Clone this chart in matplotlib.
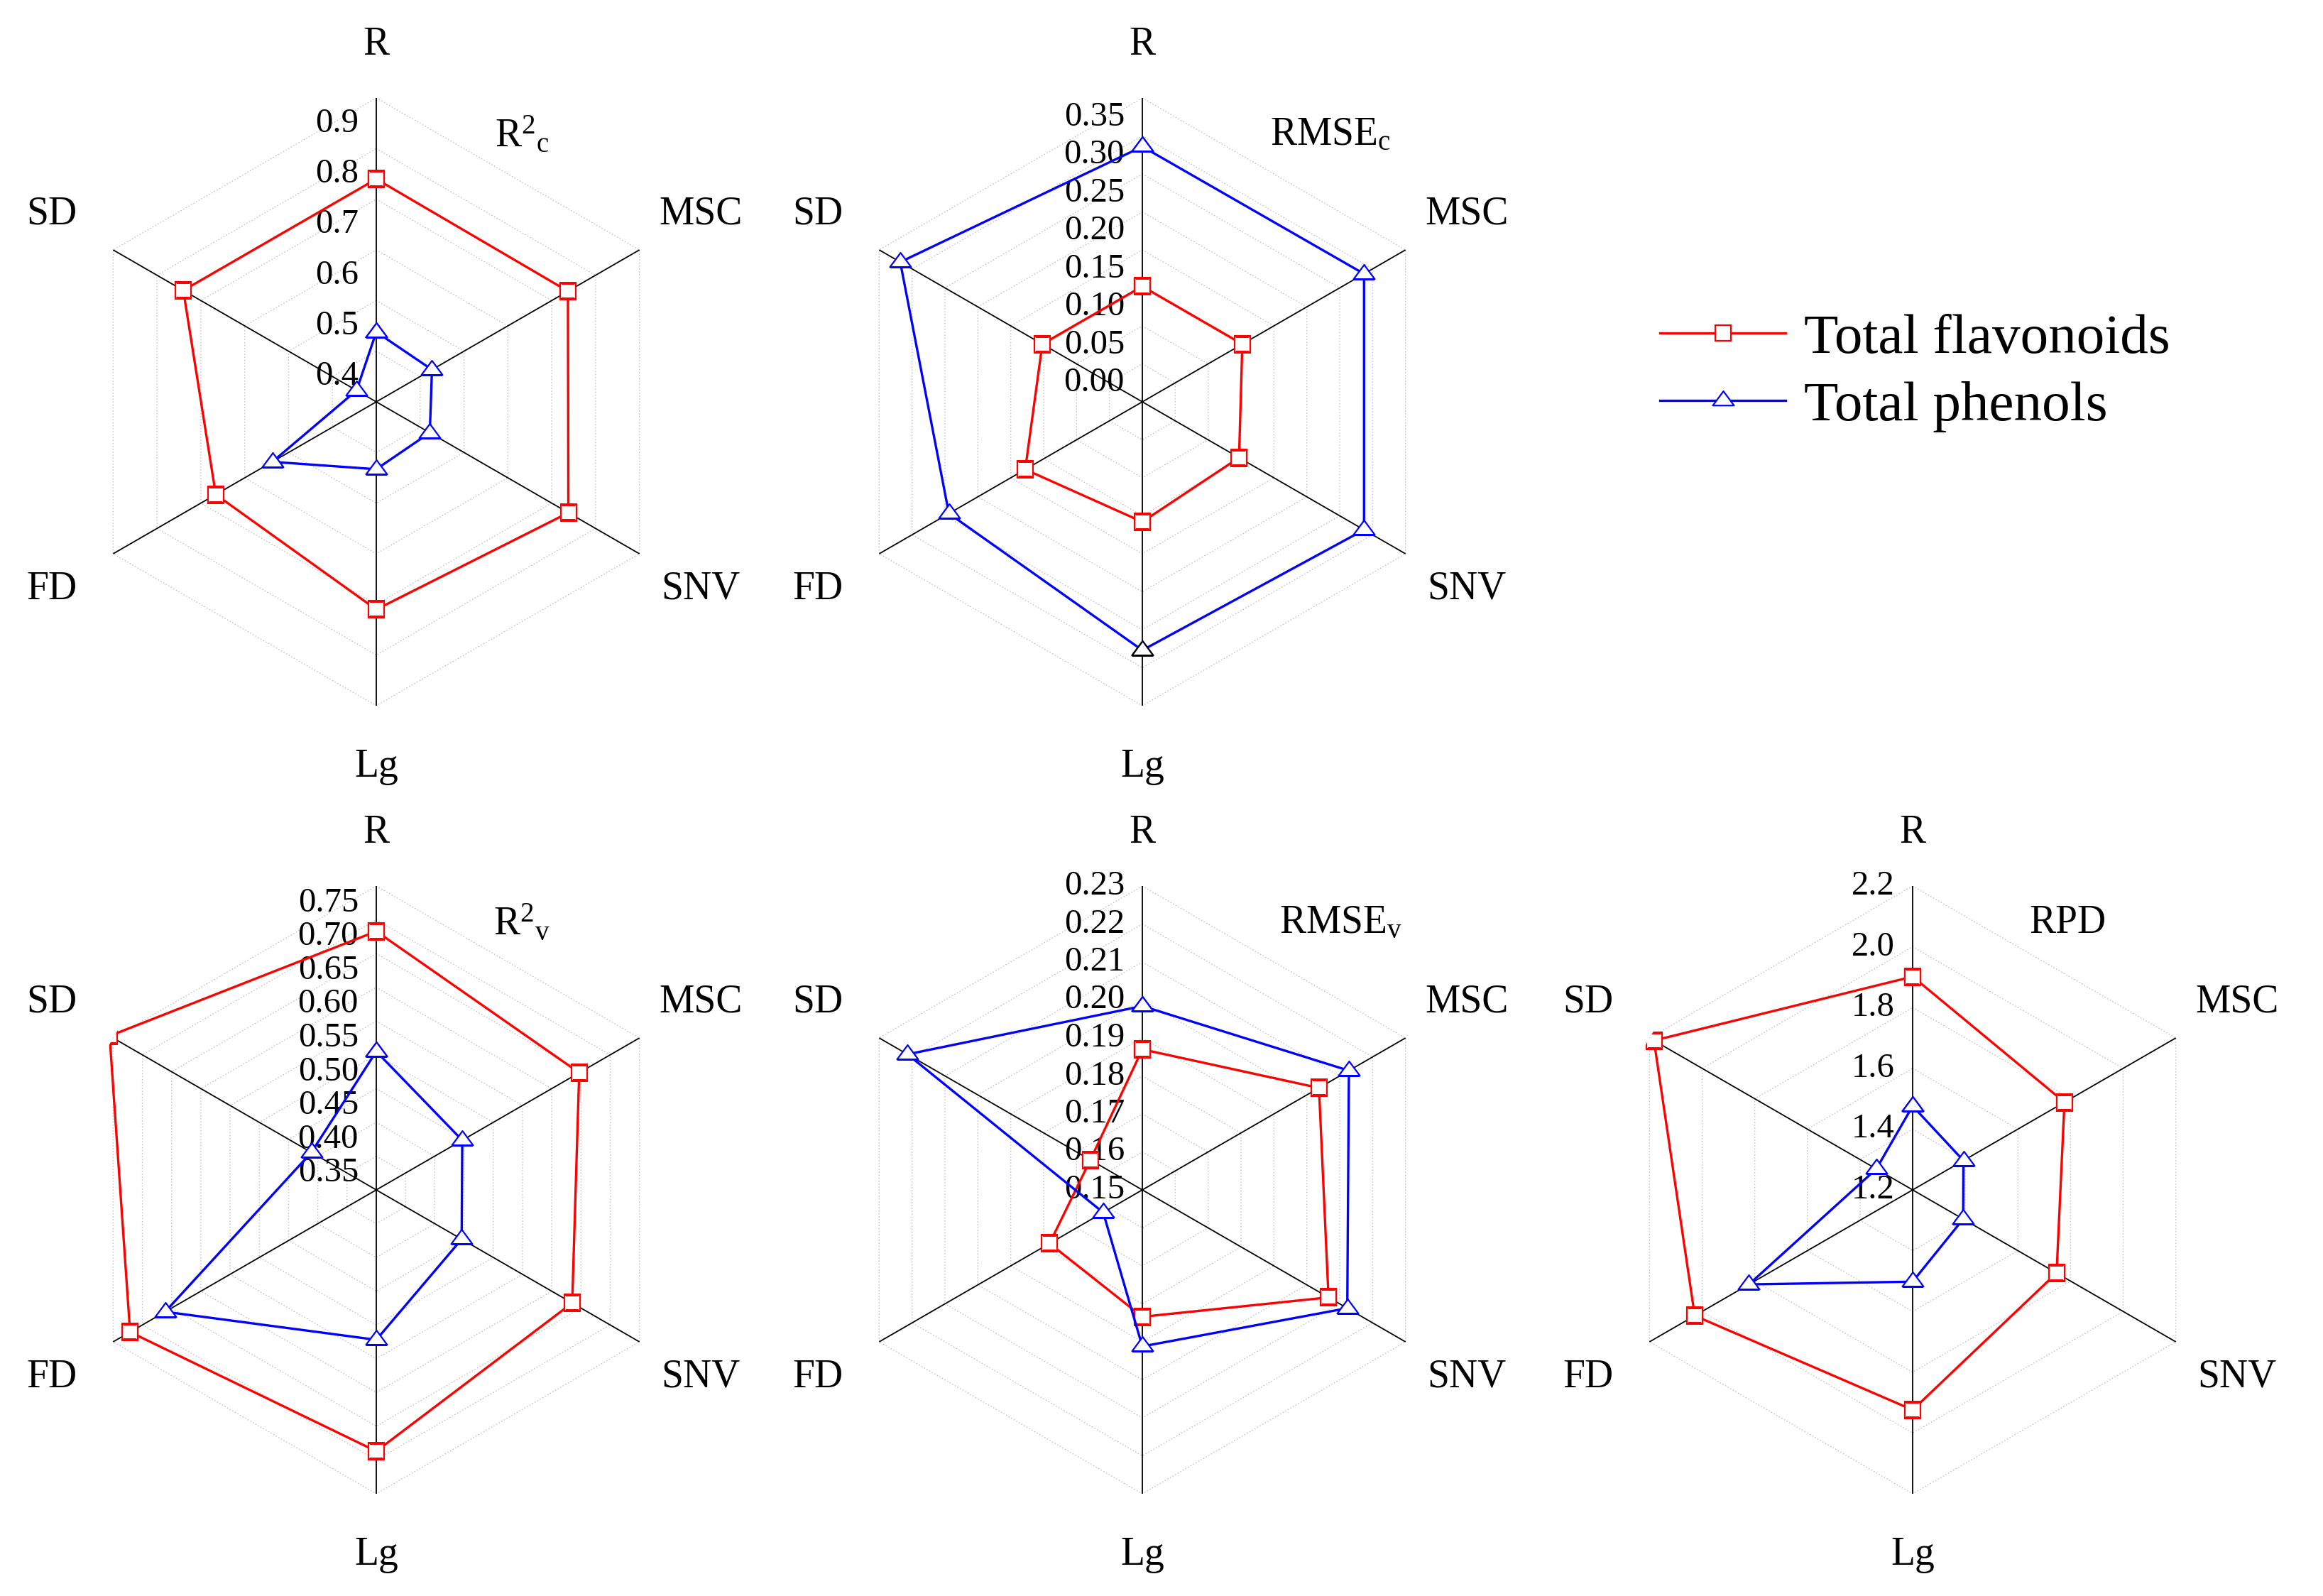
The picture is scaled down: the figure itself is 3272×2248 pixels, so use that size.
import numpy as np
import matplotlib.pyplot as plt
from matplotlib.path import Path

plt.rcParams['font.family'] = ['Liberation Serif', 'DejaVu Serif']
plt.rcParams['mathtext.fontset'] = 'custom'
plt.rcParams['mathtext.rm'] = 'Liberation Serif'
plt.rcParams['mathtext.it'] = 'Liberation Serif:italic'

categories = ["R", "MSC", "SNV", "Lg", "FD", "SD"]
series_names = ["Total flavonoids", "Total phenols"]

# values, in the order of categories
r2c_flav = [0.790, 0.787, 0.788, 0.760, 0.716, 0.790]
r2c_phen = [0.488, 0.477, 0.472, 0.483, 0.587, 0.395]

rmsec_flav = [0.127, 0.127, 0.122, 0.133, 0.153, 0.127]
rmsec_phen = [0.311, 0.312, 0.312, 0.302, 0.269, 0.343]

r2v_flav = [0.708, 0.672, 0.660, 0.712, 0.746, 0.781]
r2v_phen = [0.530, 0.472, 0.471, 0.547, 0.686, 0.436]

rmsev_flav = [0.1870, 0.2037, 0.2066, 0.1834, 0.1782, 0.1658]
rmsev_phen = [0.1984, 0.2128, 0.2123, 0.1912, 0.1619, 0.2214]

rpd_flav = [1.902, 1.777, 1.747, 1.924, 2.028, 2.183]
rpd_phen = [1.476, 1.393, 1.392, 1.502, 1.822, 1.338]

r2c_ticks = [0.4, 0.5, 0.6, 0.7, 0.8, 0.9]
rmsec_ticks = [0.00, 0.05, 0.10, 0.15, 0.20, 0.25, 0.30, 0.35]
r2v_ticks = [0.35, 0.40, 0.45, 0.50, 0.55, 0.60, 0.65, 0.70, 0.75]
rmsev_ticks = [0.15, 0.16, 0.17, 0.18, 0.19, 0.20, 0.21, 0.22, 0.23]
rpd_ticks = [1.2, 1.4, 1.6, 1.8, 2.0, 2.2]

W, H = 3273, 2248
RAD = 428
angles = np.arange(6) * np.pi / 3
label_dist = [503, 528, 528, 514, 528, 528]

# wide open triangle like the original
tri = Path([(-1, -0.45), (1, -0.45), (0, 0.9), (-1, -0.45)],
           [Path.MOVETO, Path.LINETO, Path.LINETO, Path.CLOSEPOLY])

fig = plt.figure(figsize=(W / 100, H / 100), dpi=100)


def closed(vals):
    return np.append(vals, vals[0])


def radar(cx, cy, lo, hi, nrings, ticks, fmt, flav, phen, title, title_dx):
    ax = fig.add_axes([(cx - RAD) / W, 1 - (cy + RAD) / H, 2 * RAD / W, 2 * RAD / H],
                      projection='polar')
    ax.set_theta_zero_location('N')
    ax.set_theta_direction(-1)
    ax.set_ylim(lo, hi)
    ax.set_xticks([])
    ax.set_yticks([])
    ax.grid(False)
    ax.spines['polar'].set_visible(False)

    th = closed(angles)
    # hexagonal dotted rings
    for k in range(1, nrings + 1):
        r = lo + k * (hi - lo) / nrings
        ax.plot(th, [r] * 7, color='#bdbdbd', lw=1.0, ls=(0, (1, 2)), zorder=1)
    # spokes
    for a in angles:
        ax.plot([a, a], [lo, hi], color='black', lw=1.3, zorder=2)

    for t in ticks:
        ax.annotate(fmt % t, xy=(0, t), xytext=(-18, 0), textcoords='offset points',
                    ha='right', va='center', fontsize=35, zorder=3)

    l1, = ax.plot(th, closed(flav), color='red', lw=2.4, marker='s', ms=15.8,
                  mfc='white', mec='red', mew=1.6, zorder=4)
    l2, = ax.plot(th, closed(phen), color='blue', lw=2.4, marker=tri, ms=21.5,
                  mfc='white', mec='blue', mew=1.6, zorder=5)

    for a, name, d in zip(angles, categories, label_dist):
        ax.text(0.5 + d / (2 * RAD) * np.sin(a), 0.5 + d / (2 * RAD) * np.cos(a), name,
                transform=ax.transAxes, ha='center', va='center', fontsize=40)
    ax.text(0.5 + title_dx / (2 * RAD), 0.5 + 376 / (2 * RAD), title,
            transform=ax.transAxes, ha='center', va='center', fontsize=40)
    return ax, l1, l2


ax1, h1, h2 = radar(530, 566, 0.35, 0.95, 6, r2c_ticks, '%.1f', r2c_flav, r2c_phen,
                    r'R$^{2}{}_{\mathrm{c}}$', 205)
ax2, _, _ = radar(1609, 566, -0.025, 0.375, 8, rmsec_ticks, '%.2f', rmsec_flav, rmsec_phen,
                  r'RMSE$_{\mathrm{c}}$', 265)
# the Lg triangle has a black outline in the original
ax2.plot(angles[3], rmsec_phen[3], marker=tri, ms=21.5, mfc='white', mec='black', mew=1.6,
         ls='none', zorder=6)
radar(530, 1676, 0.325, 0.775, 9, r2v_ticks, '%.2f', r2v_flav, r2v_phen,
      r'R$^{2}{}_{\mathrm{v}}$', 205)
radar(1609, 1676, 0.15, 0.23, 8, rmsev_ticks, '%.2f', rmsev_flav, rmsev_phen,
      r'RMSE$_{\mathrm{v}}$', 280)
radar(2694, 1676, 1.2, 2.2, 5, rpd_ticks, '%.1f', rpd_flav, rpd_phen, 'RPD', 218)

fig.legend(handles=[h1, h2], labels=series_names, loc='center left',
           bbox_to_anchor=(2338 / W, 1 - 525 / H), frameon=False, fontsize=57,
           handlelength=2.24, handletextpad=0.32, labelspacing=0.29,
           borderpad=0, borderaxespad=0, numpoints=1)

fig.savefig('out.png', dpi=100, facecolor='white')
